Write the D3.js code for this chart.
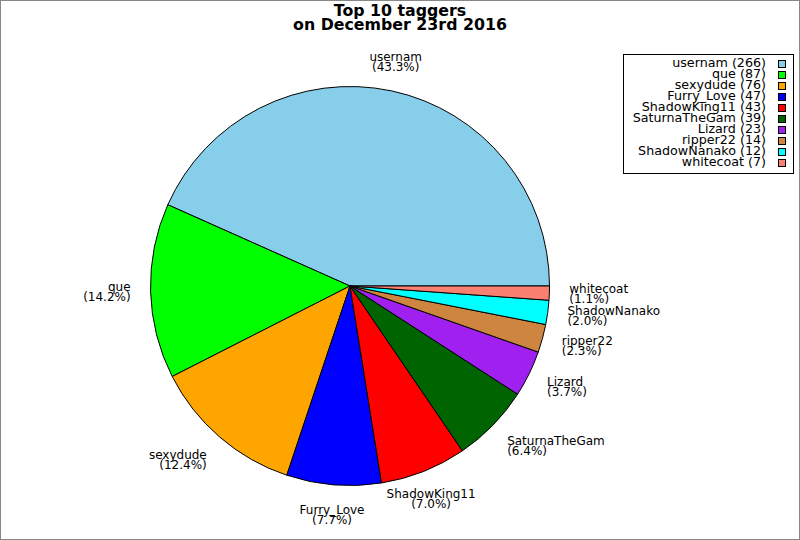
<!DOCTYPE html>
<html><head><meta charset="utf-8">
<script src="https://cdn.jsdelivr.net/npm/d3@7"></script>
<style>body{margin:0;background:#fff}svg{display:block}text{font-family:"DejaVu Sans",sans-serif;fill:#000}</style>
</head><body>
<svg id="c" width="800" height="540"></svg>
<script>
const names = ["usernam","que","sexydude","Furry_Love","ShadowKing11","SaturnaTheGam","Lizard","ripper22","ShadowNanako","whitecoat"];
const counts = [266,87,76,47,43,39,23,14,12,7];
const colors = ["#87CEEB","#00FF00","#FFA500","#0000FF","#FF0000","#006400","#A020F0","#CD853F","#00FFFF","#FA8072"];
const titleLines = ["Top 10 taggers","on December 23rd 2016"];

const svg = d3.select("#c");
const W = 800, H = 540;
svg.append("rect").attr("x",0.5).attr("y",0.5).attr("width",W-1).attr("height",H-1)
  .attr("fill","#fff").attr("stroke","#888").attr("stroke-width",1);

const tg = svg.append("g");
titleLines.forEach((t,i)=>{
  tg.append("text").attr("x",400).attr("y",16+i*13.6).attr("text-anchor","middle")
    .attr("font-size",15.8).attr("font-weight","bold").text(t);
});

const cx = 350, cy = 286, R = 199.5;
const total = d3.sum(counts);
const data = names.map((n,i)=>({name:n,value:counts[i],color:colors[i]}));
const pie = d3.pie().value(d=>d.value).sort(null)
  .startAngle(Math.PI/2).endAngle(Math.PI/2 - 2*Math.PI);
const arcs = pie(data);
const arc = d3.arc().innerRadius(0).outerRadius(R);
const g = svg.append("g").attr("transform",`translate(${cx},${cy})`);
g.selectAll("path").data(arcs).join("path")
  .attr("d",arc).attr("fill",d=>d.data.color)
  .attr("stroke","#000").attr("stroke-width",1).attr("stroke-linejoin","round");

const fmt = d3.format(".1f");
const lh = 10, fs = 12;
arcs.forEach(a=>{
  const mid = (a.startAngle + a.endAngle)/2;
  const sx = Math.sin(mid), sy = -Math.cos(mid);
  const px = cx + 1.1*R*sx, py = cy + 1.1*R*sy;
  const cosA = sx, sinA = -sy;
  let anchor = "middle";
  if (cosA > 0.5) anchor = "start"; else if (cosA < -0.5) anchor = "end";
  const h = 2*lh;
  const top = py - h*(0.5 + 0.5*sinA);
  const t = svg.append("text").attr("font-size",fs).attr("text-anchor",anchor);
  t.append("tspan").attr("x",px).attr("y",top+9).text(a.data.name);
  t.append("tspan").attr("x",px).attr("y",top+9+lh).text("(" + fmt(a.data.value/total*100) + "%)");
});

const lg = svg.append("g");
lg.append("rect").attr("x",623.5).attr("y",54.5).attr("width",170).attr("height",119)
  .attr("fill","#fff").attr("stroke","#000").attr("stroke-width",1);
const ly = d3.scaleBand().domain(names).range([57,57+11*names.length]);
data.forEach(d=>{
  const y = ly(d.name);
  lg.append("text").attr("x",766).attr("y",y+10).attr("text-anchor","end").attr("font-size",12.7)
    .text(`${d.name} (${d.value})`);
  lg.append("rect").attr("x",778.5).attr("y",y+3.5).attr("width",7).attr("height",7)
    .attr("fill",d.color).attr("stroke","#000").attr("stroke-width",1);
});
</script>
</body></html>
